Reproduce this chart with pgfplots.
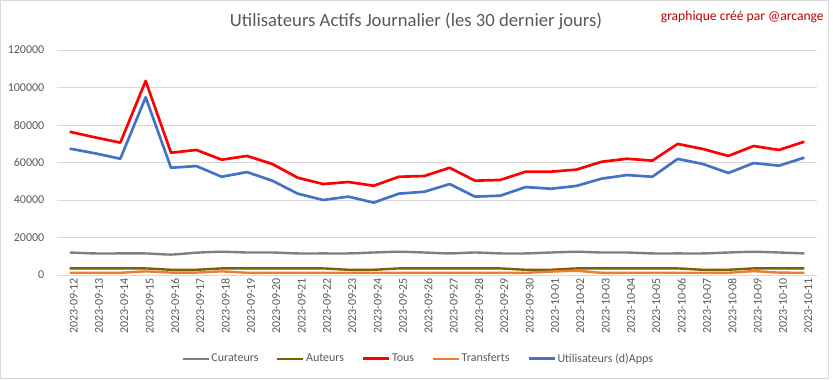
\documentclass[border=0pt]{standalone}
\usepackage{pgfplots}
\pgfplotsset{compat=1.18}
\usepackage{fontspec}
\setmainfont{Carlito}
\definecolor{txt}{HTML}{595959}
\definecolor{gridc}{HTML}{D9D9D9}
\definecolor{cgray}{HTML}{7F7F7F}
\definecolor{cgold}{HTML}{7F6000}
\definecolor{cred}{HTML}{FF0000}
\definecolor{corange}{HTML}{ED7D31}
\definecolor{cblue}{HTML}{4472C4}
\definecolor{cattr}{HTML}{C00000}
\pgfplotstableread{
x cur aut tous tra app
0  12000 3500 76400 1200 67400
1  11500 3500 73400 1200 64900
2  11500 3500 70600 1200 62000
3  11500 3500 103500 1900 94800
4  10900 2800 65200 1300 57200
5  11900 2800 66700 1300 58100
6  12400 3500 61500 1900 52400
7  12000 3500 63500 1200 54900
8  12000 3500 59200 1200 50300
9  11500 3500 51900 1200 43400
10 11500 3500 48500 1200 40000
11 11500 2800 49600 1200 41800
12 12000 2800 47600 1200 38600
13 12400 3500 52400 1200 43400
14 12000 3500 52800 1200 44400
15 11500 3500 57200 1200 48500
16 12000 3500 50300 1200 41800
17 11500 3500 50700 1200 42300
18 11500 2800 55100 1200 46900
19 12000 2800 55100 1800 46000
20 12400 3500 56200 2200 47500
21 12000 3500 60400 1200 51400
22 12000 3500 62000 1200 53300
23 11500 3500 61000 1200 52400
24 11500 3500 69900 1200 61900
25 11500 2800 67200 1200 59200
26 12000 2800 63500 1200 54400
27 12400 3500 68800 2000 59700
28 12000 3500 66700 1300 58300
29 11500 3500 71100 1200 62600
}\data
\begin{document}
\begin{tikzpicture}
\path[use as bounding box] (0pt,0pt) rectangle (624.75pt,284.25pt);
\draw[color=gridc, line width=0.75pt] (0.4pt,0.4pt) rectangle (621pt,283.9pt);
\node[txt, font=\fontsize{14}{16}\selectfont] at (312pt,268.5pt) {Utilisateurs Actifs Journalier (les 30 dernier jours)};
\node[cattr, font=\fontsize{10.2}{12}\selectfont, anchor=east, inner sep=0pt] at (618pt,271.5pt) {graphique créé par @arcange};
\begin{axis}[
  at={(42.75pt,78pt)}, anchor=south west,
  scale only axis, width=570pt, height=168.75pt,
  xmin=-0.5, xmax=29.5, ymin=0, ymax=120000,
  ytick={0,20000,40000,60000,80000,100000,120000},
  xtick={0,...,29},
  xticklabels={2023-09-12,2023-09-13,2023-09-14,2023-09-15,2023-09-16,2023-09-17,2023-09-18,2023-09-19,2023-09-20,2023-09-21,2023-09-22,2023-09-23,2023-09-24,2023-09-25,2023-09-26,2023-09-27,2023-09-28,2023-09-29,2023-09-30,2023-10-01,2023-10-02,2023-10-03,2023-10-04,2023-10-05,2023-10-06,2023-10-07,2023-10-08,2023-10-09,2023-10-10,2023-10-11},
  scaled y ticks=false,
  /pgf/number format/assume math mode=true,
  yticklabel={\pgfmathprintnumber[fixed,1000 sep={}]{\tick}},
  ymajorgrids, grid style={gridc, line width=0.75pt},
  axis lines*=left,
  x axis line style={gridc, line width=0.75pt, -},
  y axis line style={draw=none},
  major tick length=0pt,
  tick label style={txt, font=\fontsize{9}{11}\selectfont},
  xticklabel style={rotate=90, anchor=east, inner sep=2pt},
  yticklabel style={xshift=-6pt},
  every x tick label/.append style={yshift=-3pt},
  legend columns=5,
  legend style={at={(0.475,-0.372)}, anchor=center, draw=none, fill=none,
    font=\fontsize{9}{11}\selectfont, text=txt, inner sep=0pt,
    nodes={inner sep=1.2pt},
    /tikz/every even column/.append style={column sep=12pt}},
  legend cell align=left,
  legend image code/.code={\draw[#1] (0pt,0pt) -- (19.5pt,0pt);},
  every axis plot/.append style={line width=2pt, line join=round},
]
\addplot[cgray, smooth, tension=0.4, line width=1.8pt] table[x=x, y=cur] {\data};
\addlegendentry{Curateurs}
\addplot[cgold, smooth, tension=0.4, line width=1.8pt] table[x=x, y=aut] {\data};
\addlegendentry{Auteurs}
\addplot[cred] table[x=x, y=tous] {\data};
\addlegendentry{Tous}
\addplot[corange, smooth, tension=0.4, line width=1.8pt] table[x=x, y=tra] {\data};
\addlegendentry{Transferts}
\addplot[cblue] table[x=x, y=app] {\data};
\addlegendentry{Utilisateurs (d)Apps}
\end{axis}
\end{tikzpicture}
\end{document}
